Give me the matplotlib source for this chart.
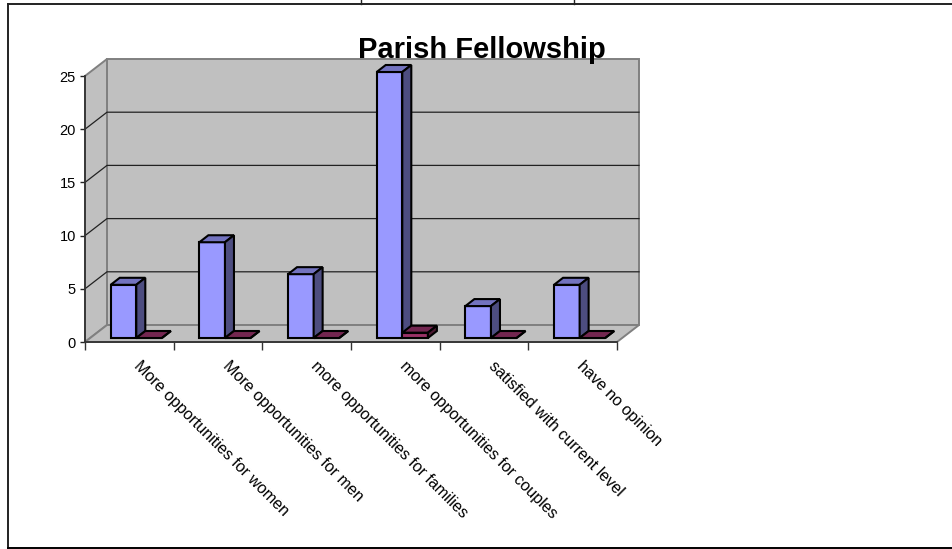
from matplotlib import pyplot as plt
from matplotlib.patches import Polygon

plt.rcParams['font.family'] = ['Liberation Sans', 'DejaVu Sans']

#%% DATA
title = "Parish Fellowship"
categories = ["More opportunities for women",
              "More opportunities for men",
              "more opportunities for families",
              "more opportunities for couples",
              "satisfied with current level",
              "have no opinion"]
series_a = [5, 9, 6, 25, 3, 5]
series_b = [0, 0, 0, 0.5, 0, 0]
y_ticks = [0, 5, 10, 15, 20, 25]

#%% pixel layout of the fake 3D box
W, H = 953, 549
x0_px, x1_px = 85, 617
y0_px, y1_px = 342, 76
px_x = (x1_px - x0_px) / len(categories)  # pixels per category
px_y = (y0_px - y1_px) / y_ticks[-1]      # pixels per unit

# depth offsets in data units
wall_dx, wall_dy = 22 / px_x, 17 / px_y
bar_dx, bar_dy = 9 / px_x, 7 / px_y
base_dy = 4 / px_y
bar_w = 25.6 / px_x
bar_start = 25.7 / px_x

colors_a = ('#9999FF', '#7373BF', '#4D4D80')
colors_b = ('#993366', '#732650', '#4D1A33')
LW = 1.5


def box(ax, x, h, cols):
    """front, top and side faces of one bar"""
    x2 = x + bar_w
    y = base_dy
    faces = [([(x, y), (x2, y), (x2, y + h), (x, y + h)], cols[0]),
             ([(x, y + h), (x2, y + h), (x2 + bar_dx, y + h + bar_dy), (x + bar_dx, y + h + bar_dy)], cols[1]),
             ([(x2, y), (x2 + bar_dx, y + bar_dy), (x2 + bar_dx, y + h + bar_dy), (x2, y + h)], cols[2])]
    for pts, c in faces:
        ax.add_patch(Polygon(pts, closed=True, facecolor=c, edgecolor='black',
                             linewidth=LW, joinstyle='miter', clip_on=False, zorder=4))


fig = plt.figure(figsize=(W / 100, H / 100), dpi=100)

# page furniture, in pixels
bg = fig.add_axes([0, 0, 1, 1])
bg.set_xlim(0, W)
bg.set_ylim(H, 0)
bg.axis('off')
bg.plot([8, W], [4, 4], color='#222222', lw=1.4)
bg.plot([8, 8], [4, 548], color='#222222', lw=1.4)
bg.plot([8, W], [548, 548], color='black', lw=1.4)
bg.plot([361.5, 361.5], [0, 4], color='#222222', lw=1)
bg.plot([574.5, 574.5], [0, 4], color='#222222', lw=1)

ax = fig.add_axes([x0_px / W, 1 - y0_px / H, (x1_px - x0_px) / W, (y0_px - y1_px) / H])
ax.set_xlim(0, len(categories))
ax.set_ylim(y_ticks[0], y_ticks[-1])
ax.patch.set_visible(False)
for s in ('top', 'right'):
    ax.spines[s].set_visible(False)
for s in ('left', 'bottom'):
    ax.spines[s].set_color('#333333')
    ax.spines[s].set_linewidth(1.3)
    ax.spines[s].set_zorder(3)

n = len(categories)
top = y_ticks[-1]
wall_kw = dict(closed=True, facecolor='#C0C0C0', edgecolor='#808080', linewidth=1.4,
               clip_on=False, zorder=1)
# back wall, side wall, floor
ax.add_patch(Polygon([(wall_dx, wall_dy), (n + wall_dx, wall_dy),
                      (n + wall_dx, top + wall_dy), (wall_dx, top + wall_dy)], **wall_kw))
ax.add_patch(Polygon([(0, 0), (wall_dx, wall_dy), (wall_dx, top + wall_dy), (0, top)], **wall_kw))
ax.add_patch(Polygon([(0, 0), (n, 0), (n + wall_dx, wall_dy), (wall_dx, wall_dy)], **wall_kw))

# gridlines run along side wall then back wall
for t in y_ticks[1:-1]:
    ax.plot([0, wall_dx, n + wall_dx], [t, t + wall_dy, t + wall_dy], color='#222222',
            lw=0.9, clip_on=False, zorder=2)

for i in range(n):
    box(ax, i + bar_start, series_a[i], colors_a)
    box(ax, i + bar_start + bar_w, series_b[i], colors_b)

ax.set_xticks(range(n + 1))
ax.set_xticklabels([])
ax.set_yticks(y_ticks)
ax.tick_params(axis='x', length=5.5, width=1, color='#333333')
ax.tick_params(axis='y', length=3.5, width=1, color='#222222', labelsize=10.5, pad=3)

for i, lab in enumerate(categories):
    ax.text(i + 0.5 + 7 / px_x, -22 / px_y, lab, rotation=-45, rotation_mode='anchor',
            ha='left', va='center', fontsize=11.5, clip_on=False, color='black')

bg.set_zorder(5)
bg.patch.set_visible(False)
bg.text(481.5, 58, title, ha='center', va='baseline', fontsize=21, fontweight='bold', color='black')

plt.savefig('out.png', dpi=100)
